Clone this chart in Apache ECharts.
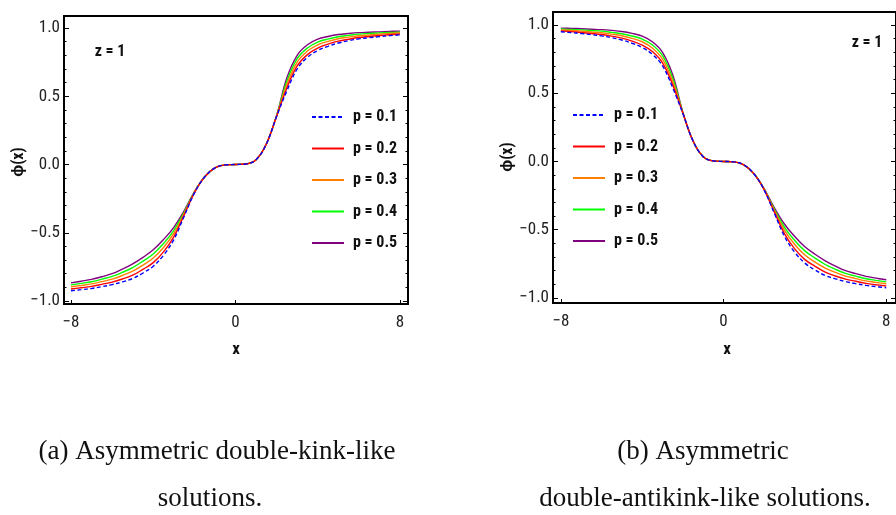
<!DOCTYPE html>
<html>
<head>
<meta charset="utf-8">
<script src="https://cdn.jsdelivr.net/npm/echarts@6/dist/echarts.min.js"></script>
<style>
html,body{margin:0;padding:0;background:#fff;}
#chart{width:896px;height:515px;}
</style>
</head>
<body>
<div id="chart"></div>
<script>
// x samples (panel a); panel b is the mirror image x -> -x
const xs   = [-8,-7.5,-7,-6.5,-6,-5.5,-5,-4.5,-4,-3.5,-3,-2.5,-2,-1.5,-1,-0.5,0,0.5,1,1.5,2,2.5,3,3.5,4,4.5,5,5.5,6,6.5,7,7.5,8];
const p01  = [-0.925,-0.917,-0.908,-0.895,-0.880,-0.860,-0.835,-0.795,-0.745,-0.665,-0.550,-0.380,-0.210,-0.092,-0.025,-0.003,0,0.004,0.035,0.150,0.352,0.540,0.700,0.785,0.835,0.866,0.890,0.907,0.920,0.929,0.937,0.944,0.950];
const p02  = [-0.912,-0.903,-0.893,-0.878,-0.862,-0.839,-0.811,-0.768,-0.719,-0.640,-0.530,-0.371,-0.208,-0.091,-0.025,-0.003,0,0.004,0.035,0.150,0.354,0.561,0.722,0.805,0.853,0.882,0.904,0.918,0.930,0.938,0.945,0.951,0.956];
const p03  = [-0.896,-0.886,-0.875,-0.858,-0.840,-0.813,-0.782,-0.737,-0.685,-0.608,-0.505,-0.360,-0.205,-0.091,-0.025,-0.003,0,0.004,0.035,0.150,0.356,0.588,0.750,0.831,0.877,0.902,0.921,0.933,0.943,0.949,0.955,0.960,0.964];
const p04  = [-0.882,-0.871,-0.859,-0.840,-0.820,-0.790,-0.755,-0.708,-0.655,-0.579,-0.483,-0.350,-0.203,-0.090,-0.025,-0.003,0,0.004,0.035,0.150,0.358,0.611,0.775,0.854,0.897,0.919,0.936,0.946,0.955,0.960,0.964,0.967,0.970];
const p05  = [-0.867,-0.855,-0.842,-0.822,-0.800,-0.766,-0.728,-0.680,-0.625,-0.550,-0.460,-0.340,-0.200,-0.090,-0.025,-0.003,0,0.004,0.035,0.150,0.360,0.635,0.800,0.877,0.918,0.938,0.952,0.960,0.966,0.969,0.972,0.975,0.977];
const seriesNames = ['p = 0.1','p = 0.2','p = 0.3','p = 0.4','p = 0.5'];
const seriesVals  = [p01,p02,p03,p04,p05];
const seriesColors = ['#0000ff','#ff0000','#ff8000','#00ff00','#800080'];
const xTicks = [-8,0,8];
const yTicks = [-1,-0.5,0,0.5,1];
const yMinor = [-0.9,-0.8,-0.7,-0.6,-0.4,-0.3,-0.2,-0.1,0.1,0.2,0.3,0.4,0.6,0.7,0.8,0.9];
const captionsA = ['(a) Asymmetric double-kink-like','solutions.'];
const captionsB = ['(b) Asymmetric','double-antikink-like solutions.'];
const annot = 'z = 1';

const tickFont = "'Liberation Sans Narrow','Roboto Condensed',Roboto,'Liberation Sans',sans-serif";
const fmtX = v => String(v).replace('-', '\u2212');
const fmtY = v => Number(v).toFixed(1).replace('-', '\u2212');

const chart = echarts.init(document.getElementById('chart'), null, {renderer:'canvas'});

function panelAxes(gi, xmin, xmax, ymin, ymax) {
  const xa = {
    gridIndex: gi, type: 'value', min: xmin, max: xmax, position: 'bottom',
    axisLine: {show: false, onZero: false}, splitLine: {show: false},
    axisTick: {show: true, inside: true, length: 4, customValues: xTicks, lineStyle: {color: '#000', width: 1}},
    axisLabel: {customValues: xTicks, formatter: fmtX, fontFamily: tickFont, fontSize: 17, color: '#222', margin: 10}
  };
  const mk = (pos, vals, len, labels) => ({
    gridIndex: gi, type: 'value', min: ymin, max: ymax, position: pos,
    axisLine: {show: false, onZero: false}, splitLine: {show: false},
    axisTick: {show: true, inside: true, length: len, customValues: vals, lineStyle: {color: '#000', width: 1}},
    axisLabel: labels ? {customValues: yTicks, formatter: fmtY, fontFamily: tickFont, fontSize: 17, color: '#222', margin: 4} : {show: false}
  });
  return {x: xa, y: [mk('left', yTicks, 5, true), mk('left', yMinor, 2.5, false), mk('right', yTicks, 5, false), mk('right', yMinor, 2.5, false)]};
}

const A = panelAxes(0, -8.34, 8.39, -1.022, 1.088);
const B = panelAxes(1, -8.386, 8.48, -1.037, 1.095);

const series = [];
seriesNames.forEach((name, k) => {
  const ls = {color: seriesColors[k], width: 1.4, type: k === 0 ? [4, 2.5] : 'solid'};
  series.push({
    name, type: 'line', xAxisIndex: 0, yAxisIndex: 0, symbol: 'none', smooth: 0.4,
    lineStyle: ls, itemStyle: {color: seriesColors[k]}, z: 10 - k,
    data: xs.map((x, i) => [x, seriesVals[k][i]])
  });
  series.push({
    name, type: 'line', xAxisIndex: 1, yAxisIndex: 4, symbol: 'none', smooth: 0.4,
    lineStyle: ls, itemStyle: {color: seriesColors[k]}, z: 10 - k,
    data: xs.map((x, i) => [-x, seriesVals[k][i]]).reverse()
  });
});

const legendCommon = {
  orient: 'vertical', padding: 0, itemWidth: 32, itemHeight: 14, itemGap: 15.5,
  data: seriesNames, selectedMode: false,
  itemStyle: {opacity: 0},
  textStyle: {fontFamily: tickFont, fontWeight: 'bold', fontSize: 16, color: '#111', padding: [0, 0, 0, 4]}
};

const boldFont = tickFont;
const capFont = "'Liberation Serif','DejaVu Serif',serif";

function txt(x, y, text, font, size, weight, rot) {
  return {type: 'text', x, y, rotation: rot || 0, z: 100,
    style: {text, fill: '#111', font: `${weight} ${size}px ${font}`, textAlign: 'center', textVerticalAlign: 'middle'}};
}

chart.setOption({
  animation: false,
  backgroundColor: '#fff',
  grid: [
    {left: 64, top: 16, width: 344, height: 288, show: true, borderColor: '#000', borderWidth: 2, backgroundColor: 'transparent'},
    {left: 553, top: 12, width: 350, height: 291, show: true, borderColor: '#000', borderWidth: 2, backgroundColor: 'transparent'}
  ],
  xAxis: [A.x, B.x],
  yAxis: [...A.y, ...B.y],
  legend: [
    Object.assign({left: 311, top: 109}, legendCommon),
    Object.assign({left: 572, top: 107}, legendCommon)
  ],
  series,
  graphic: [
    txt(110, 52, annot, boldFont, 16, 'bold'),
    txt(867, 43, annot, boldFont, 16, 'bold'),
    txt(19, 162, '\u03d5(x)', boldFont, 16, 'bold', Math.PI / 2),
    txt(508, 157, '\u03d5(x)', boldFont, 16, 'bold', Math.PI / 2),
    txt(236, 350, 'x', boldFont, 17, 'bold'),
    txt(727, 350, 'x', boldFont, 17, 'bold'),
    txt(217, 452, captionsA[0], capFont, 27, 'normal'),
    txt(210, 499, captionsA[1], capFont, 27, 'normal'),
    txt(703, 452, captionsB[0], capFont, 27, 'normal'),
    txt(705, 499, captionsB[1], capFont, 27, 'normal')
  ]
});
</script>
</body>
</html>
